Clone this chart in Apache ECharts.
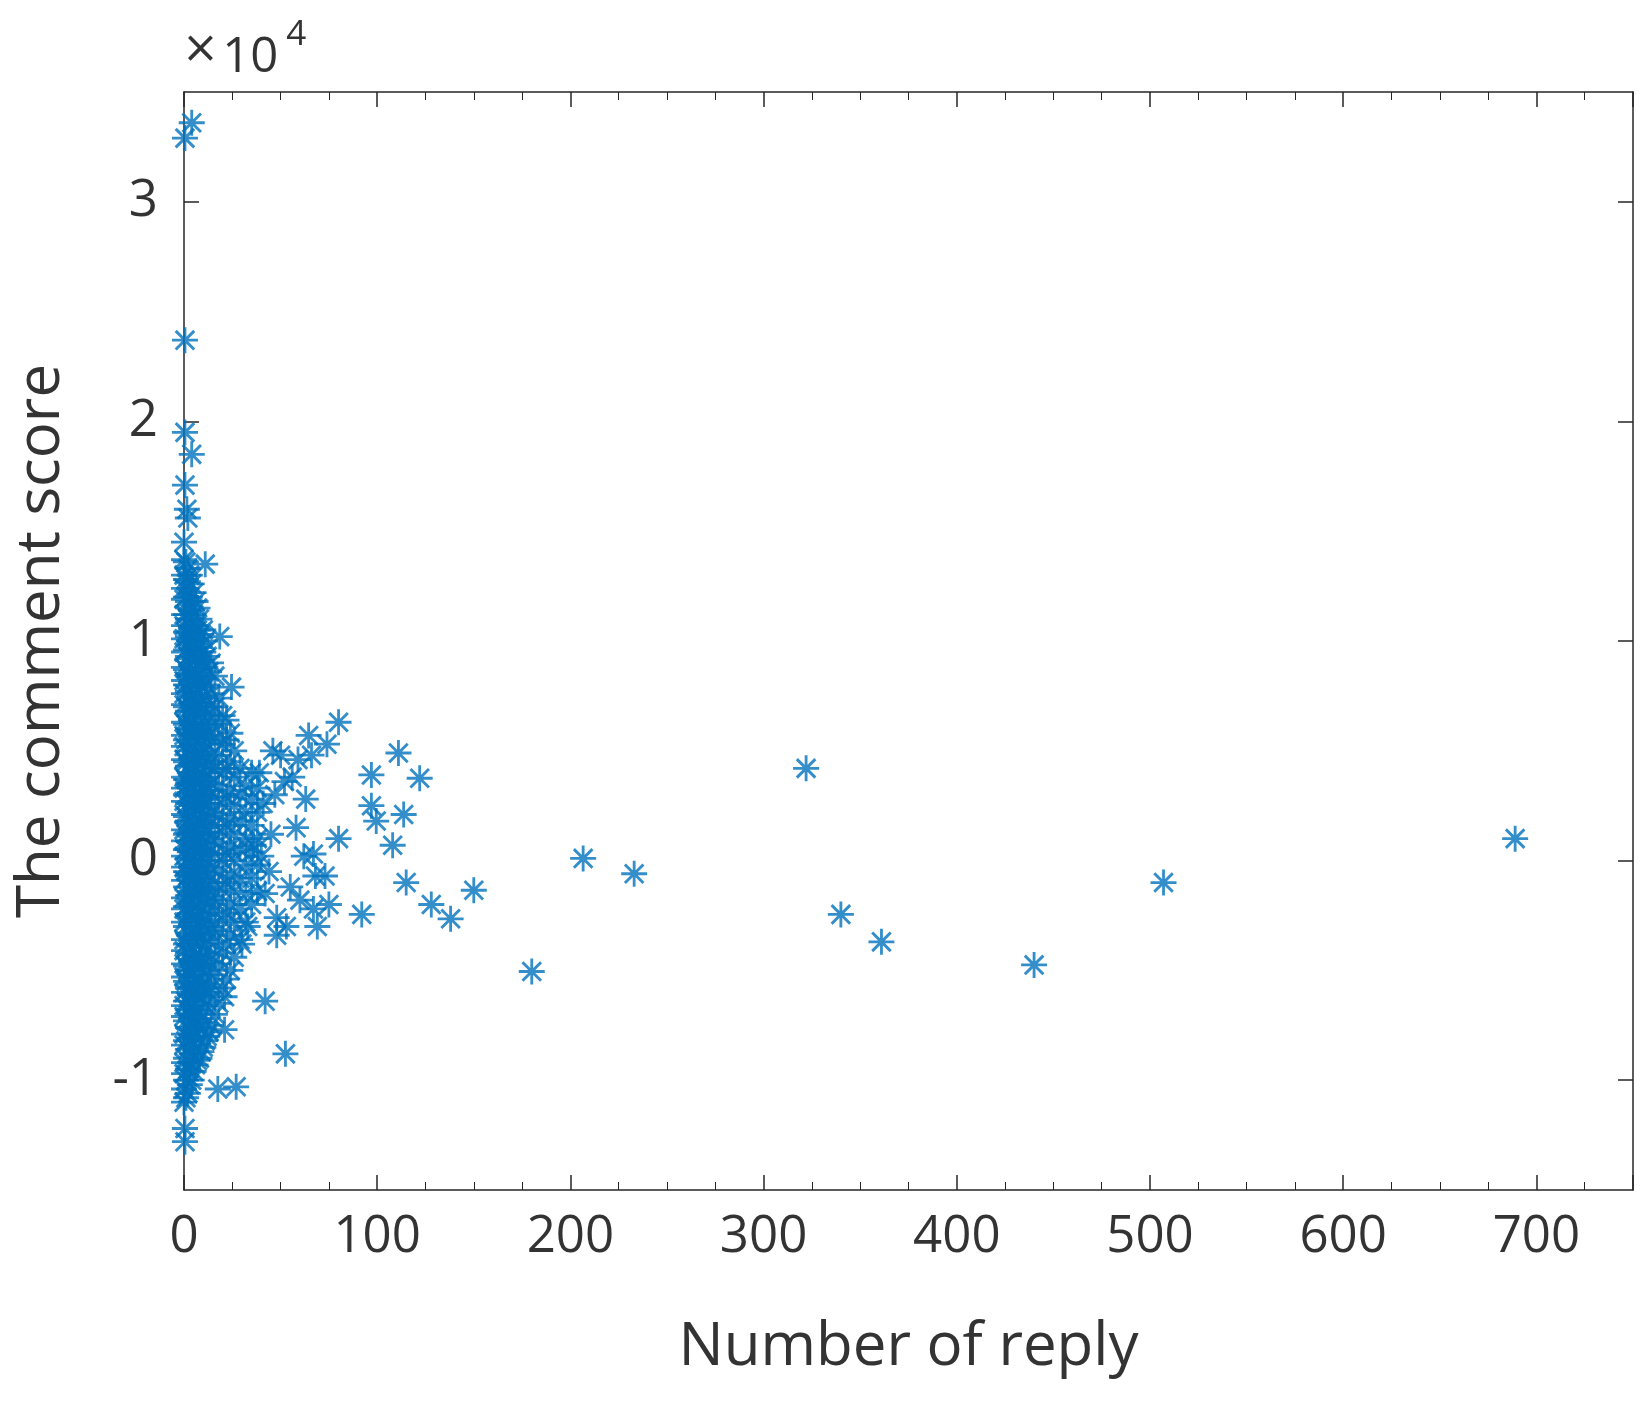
<!DOCTYPE html>
<html><head><meta charset="utf-8">
<script src="https://cdn.jsdelivr.net/npm/echarts@6/dist/echarts.min.js"></script>
<style>html,body{margin:0;background:#fff}#c{width:1650px;height:1407px}</style>
</head><body><div id="c"></div>
<script>
// y values in units of 10^4
const outliers = [
[4,3.36],[0.5,3.29],[0.5,2.37],[0.5,1.95],[4,1.85],[0.5,1.71],[1.5,1.6],[2,1.56],[11,1.35],[18.5,1.02],[24.6,0.79],
[80,0.63],[64.5,0.57],[74,0.53],[46,0.5],[111,0.49],[122,0.375],[97,0.39],[97,0.25],[99.5,0.18],[113.7,0.21],[108,0.07],
[80,0.1],[115,-0.1],[128,-0.2],[138,-0.265],[150,-0.135],[92,-0.245],[180,-0.505],[206.6,0.01],[233,-0.06],[322,0.42],
[340,-0.245],[361,-0.37],[440,-0.475],[507,-0.1],[689,0.1],[42,-0.64],[52.5,-0.88],[27,-1.03],[17.5,-1.04],[21,-0.62],
[21,-0.77],[0.5,-1.28],[0.5,-1.22],[69,-0.3],[67,-0.22],[75,-0.2],[68,-0.07],[73,-0.07],[67,0.03],[58,0.15],[48,-0.34],
[48,-0.26],[59,0.46],[66,0.48],[52,0.36],[41,0.26],[36,0.07],[50,0.48],[55,-0.12],[62,0.02],[44,-0.05],[39,0.4],[33,-0.3],[30,-0.38],
[45,0.12],[42,-0.15],[40,0.02],[47,0.3],[53,-0.3],[56,0.38],[60,-0.18],[63,0.28]
];
const denseX = [0,1,2,3,4,5,6,7,8,9,10,11,12,13,14,16,18,20,22,24,26,29,32,35,38];
const denseY = [
[-1.1,-1.04,-0.97,-0.92,-0.84,-0.79,-0.71,-0.66,-0.6,-0.53,-0.47,-0.41,-0.36,-0.28,-0.22,-0.17,-0.09,-0.03,0.02,0.09,0.14,0.21,0.27,0.33,0.38,0.46,0.52,0.57,0.63,0.71,0.76,0.82,0.88,0.95,1.01,1.07,1.12,1.19,1.24,1.3,1.37,1.45],
[-1.08,-1.0,-0.9,-0.82,-0.73,-0.64,-0.55,-0.48,-0.38,-0.3,-0.21,-0.12,-0.05,0.05,0.12,0.2,0.3,0.37,0.45,0.55,0.62,0.7,0.8,0.87,0.96,1.04,1.12,1.2,1.28,1.36],
[-1.06,-0.95,-0.86,-0.76,-0.68,-0.58,-0.5,-0.42,-0.33,-0.25,-0.16,-0.07,0.01,0.09,0.18,0.26,0.35,0.43,0.5,0.6,0.68,0.77,0.85,0.93,1.02,1.1,1.18,1.27,1.33],
[-1.02,-0.92,-0.81,-0.7,-0.61,-0.52,-0.43,-0.34,-0.24,-0.14,-0.06,0.04,0.13,0.22,0.31,0.4,0.48,0.58,0.66,0.75,0.84,0.92,1.0,1.1,1.2,1.3],
[-1.0,-0.88,-0.77,-0.66,-0.56,-0.45,-0.35,-0.26,-0.15,-0.05,0.06,0.15,0.25,0.34,0.44,0.53,0.63,0.72,0.82,0.93,1.03,1.14,1.26],
[-0.96,-0.84,-0.72,-0.6,-0.48,-0.37,-0.27,-0.16,-0.06,0.05,0.16,0.26,0.36,0.47,0.57,0.68,0.79,0.9,1.01,1.12,1.22],
[-0.93,-0.8,-0.68,-0.55,-0.43,-0.31,-0.19,-0.08,0.04,0.15,0.27,0.38,0.5,0.6,0.72,0.84,0.95,1.07,1.18],
[-0.91,-0.74,-0.61,-0.47,-0.33,-0.2,-0.06,0.09,0.21,0.33,0.46,0.58,0.7,0.81,0.93,1.05,1.15],
[-0.9,-0.76,-0.62,-0.49,-0.36,-0.24,-0.12,0.0,0.12,0.24,0.36,0.48,0.6,0.72,0.84,0.97,1.1],
[-0.87,-0.72,-0.57,-0.44,-0.28,-0.14,0.02,0.17,0.3,0.42,0.55,0.67,0.79,0.91,1.03],
[-0.85,-0.7,-0.56,-0.42,-0.3,-0.17,-0.05,0.08,0.2,0.32,0.45,0.57,0.7,0.83,0.95,1.05],
[-0.82,-0.66,-0.52,-0.38,-0.25,-0.12,0.0,0.13,0.26,0.38,0.5,0.62,0.75,0.88,1.0],
[-0.8,-0.64,-0.5,-0.36,-0.22,-0.1,0.03,0.15,0.28,0.4,0.53,0.66,0.8,0.93],
[-0.78,-0.6,-0.46,-0.32,-0.18,-0.06,0.07,0.2,0.32,0.44,0.57,0.7,0.86],
[-0.75,-0.58,-0.43,-0.3,-0.16,-0.03,0.1,0.22,0.35,0.48,0.62,0.76,0.9],
[-0.7,-0.52,-0.37,-0.23,-0.1,0.03,0.16,0.29,0.42,0.56,0.7,0.84],
[-0.65,-0.47,-0.32,-0.18,-0.05,0.08,0.21,0.34,0.48,0.62,0.74],
[-0.58,-0.42,-0.27,-0.13,0.0,0.13,0.26,0.4,0.53,0.66],
[-0.54,-0.38,-0.24,-0.1,0.03,0.16,0.29,0.42,0.55,0.64],
[-0.5,-0.34,-0.2,-0.07,0.06,0.19,0.32,0.45,0.58],
[-0.44,-0.28,-0.14,0.0,0.12,0.25,0.38,0.5],
[-0.36,-0.22,-0.08,0.05,0.18,0.3,0.42],
[-0.28,-0.15,-0.02,0.1,0.22,0.34],
[-0.2,-0.08,0.04,0.16,0.28,0.4],
[-0.14,-0.02,0.1,0.22,0.33]
];
const xTicks = [0,100,200,300,400,500,600,700];
const yTicks = [-1,0,1,2,3];

const pts = outliers.slice();
denseX.forEach((x,i)=>denseY[i].forEach(y=>pts.push([x,y])));

const star = 'path://M10.7 0L13.3 0L13.3 24L10.7 24ZM0 10.7L24 10.7L24 13.3L0 13.3ZM2.5 4.4L4.4 2.5L21.5 19.6L19.6 21.5ZM19.6 2.5L21.5 4.4L4.4 21.5L2.5 19.6Z';
const col = '#0072BD', txt = '#333333', ax = '#262626';
const lab = {fontFamily:'Open Sans', fontSize:51, color:txt};
const chart = echarts.init(document.getElementById('c'));
const tick = {show:true, inside:true, length:15, lineStyle:{color:ax,width:1.5}};
chart.setOption({
  animation:false,
  grid:{left:184,right:17,top:92,bottom:217},
  xAxis:[
    {type:'value',min:0,max:750,interval:100,position:'bottom',
     name:'Number of reply',nameLocation:'middle',nameGap:128,nameTextStyle:{fontFamily:'Open Sans',fontSize:60,color:txt},
     axisLine:{show:true,onZero:false,lineStyle:{color:ax,width:1.5}},axisTick:tick,
     minorTick:{show:true,splitNumber:4,length:8,lineStyle:{color:ax}},
     axisLabel:Object.assign({margin:22,showMaxLabel:false},lab),splitLine:{show:false}},
    {type:'value',min:0,max:750,interval:100,position:'top',
     axisLine:{show:true,onZero:false,lineStyle:{color:ax,width:1.5}},axisTick:tick,
     minorTick:{show:true,splitNumber:4,length:8,lineStyle:{color:ax}},
     axisLabel:{show:false},splitLine:{show:false}}
  ],
  yAxis:[
    {type:'value',min:-1.5,max:3.5,position:'left',
     name:'The comment score',nameLocation:'middle',nameGap:112,nameTextStyle:{fontFamily:'Open Sans',fontSize:60,color:txt},
     axisLine:{show:true,onZero:false,lineStyle:{color:ax,width:1.5}},
     axisTick:Object.assign({customValues:yTicks},tick),
     axisLabel:Object.assign({customValues:yTicks,margin:26},lab),splitLine:{show:false}},
    {type:'value',min:-1.5,max:3.5,position:'right',
     axisLine:{show:true,onZero:false,lineStyle:{color:ax,width:1.5}},
     axisTick:Object.assign({customValues:yTicks},tick),
     axisLabel:{show:false},splitLine:{show:false}}
  ],
  graphic:[{type:'text',left:182,top:18,style:{
    text:'{a|×} {b|10}{c|4}',
    rich:{a:{fontFamily:'DejaVu Sans',fontSize:44,fill:txt},b:{fontFamily:'Open Sans',fontSize:49,fill:txt,padding:[16,0,0,0]},c:{fontFamily:'Open Sans',fontSize:35,fill:txt,verticalAlign:'top',padding:[0,0,22,8]}}
  }}],
  series:[{type:'scatter',data:pts,symbol:star,symbolSize:26,clip:false,itemStyle:{color:col}}]
});
</script></body></html>
